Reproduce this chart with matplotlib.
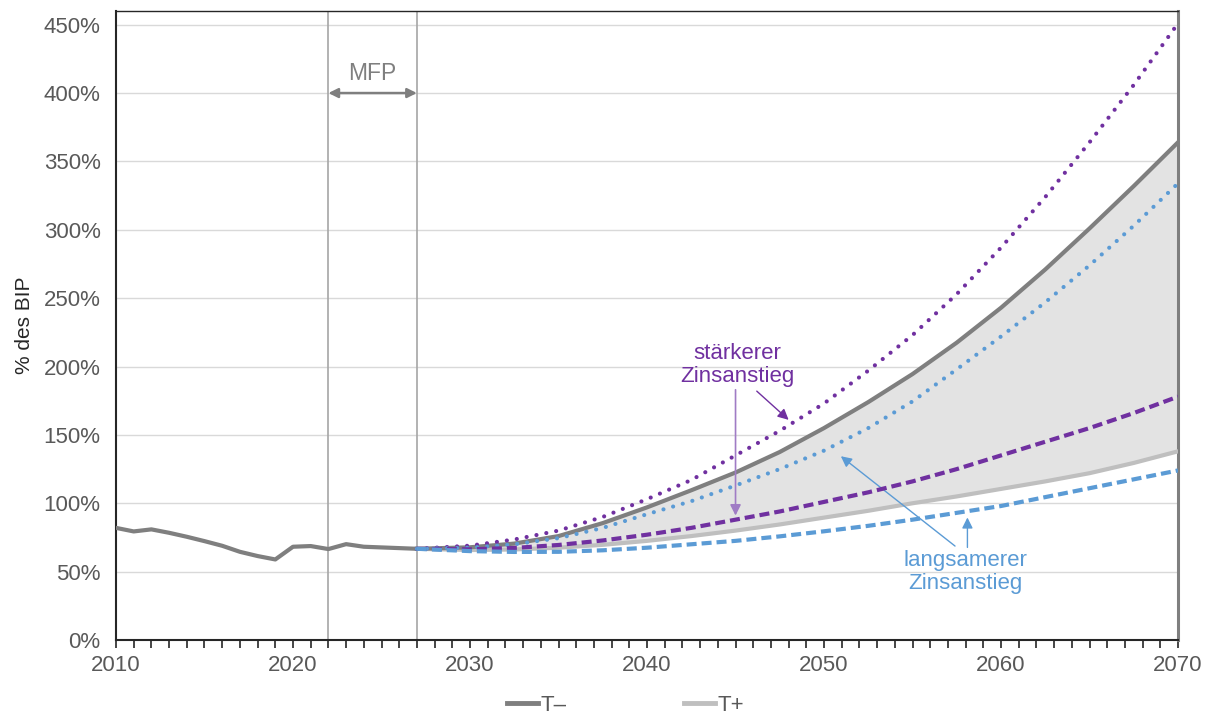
import matplotlib
matplotlib.use("Agg")
import matplotlib.pyplot as plt

plt.rcParams['font.family'] = ['Liberation Sans', 'DejaVu Sans']

# historische Schuldenquote
hist_years = list(range(2010, 2028))
hist_values = [82.0, 79.4, 80.9, 78.4, 75.5, 72.3, 68.9, 64.5, 61.4, 58.9,
               68.2, 68.7, 66.5, 70.1, 68.2, 67.7, 67.2, 66.7]

# Projektionen
proj_years = [2027, 2030, 2032.5, 2035, 2037.5, 2040, 2042.5, 2045, 2047.5,
              2050, 2052.5, 2055, 2057.5, 2060, 2062.5, 2065, 2067.5, 2070]
t_minus = [66.7, 67.8, 70.5, 76.0, 85.5, 97.0, 109.5, 122.5, 137.5,
           155.0, 174.0, 194.5, 217.5, 243.0, 271.0, 301.0, 332.0, 364.0]
t_plus = [66.7, 65.8, 66.2, 67.5, 69.6, 72.5, 76.0, 80.0, 84.5,
          89.5, 94.5, 100.0, 105.0, 110.5, 116.0, 122.0, 129.5, 138.0]
t_minus_strong = [66.7, 69.0, 73.5, 80.0, 90.0, 103.0, 117.0, 135.0, 153.0,
                  173.0, 197.0, 223.0, 253.0, 287.0, 324.0, 364.0, 406.0, 451.0]
t_minus_slow = [66.7, 67.5, 70.0, 74.5, 82.0, 92.0, 101.5, 113.0, 125.0,
                138.5, 155.0, 174.5, 198.0, 222.0, 247.0, 274.0, 303.0, 334.0]
t_plus_strong = [66.7, 66.3, 67.3, 69.5, 72.8, 77.0, 82.0, 88.0, 94.0,
                 101.0, 108.0, 116.0, 125.0, 135.0, 145.0, 155.0, 166.0, 178.0]
t_plus_slow = [66.7, 65.0, 64.4, 64.5, 65.6, 67.5, 70.0, 72.5, 75.8,
               79.5, 83.5, 88.0, 93.0, 98.0, 104.5, 111.0, 117.5, 124.0]

mfp_start, mfp_end = 2022, 2027

DARK = '#7f7f7f'
LIGHT = '#bfbfbf'
PURPLE = '#7030a0'
BLUE = '#5b9bd5'
TXT = '#595959'

fig = plt.figure(figsize=(12.12, 7.15), dpi=100)
ax = fig.add_axes([0.0957, 0.1049, 0.8763, 0.8797])

ax.fill_between(proj_years, t_plus, t_minus, color='#e3e3e3', lw=0, zorder=1)

for v in [50, 100, 150, 200, 250, 300, 350, 400, 450]:
    ax.axhline(v, color='#d9d9d9', lw=1.0, zorder=0)

ax.axvline(mfp_start, color='#a6a6a6', lw=1.2, zorder=2)
ax.axvline(mfp_end, color='#a6a6a6', lw=1.2, zorder=2)

LW = 3.0
ax.plot(hist_years, hist_values, color=DARK, lw=LW, zorder=4, solid_capstyle='round')
ax.plot(proj_years, t_plus, color=LIGHT, lw=LW, zorder=3, label='T+')
ax.plot(proj_years, t_minus, color=DARK, lw=LW, zorder=3, label='T\u2013')

dotted = (0, (0.01, 2.4))
dashed = (0, (2.4, 1.2))
ax.plot(proj_years, t_minus_strong, color=PURPLE, lw=LW, ls=dotted,
        dash_capstyle='round', zorder=5)
ax.plot(proj_years, t_minus_slow, color=BLUE, lw=LW, ls=dotted,
        dash_capstyle='round', zorder=5)
ax.plot(proj_years, t_plus_strong, color=PURPLE, lw=LW, ls=dashed, zorder=5)
ax.plot(proj_years, t_plus_slow, color=BLUE, lw=LW, ls=dashed, zorder=6)

# MFP Pfeil
ax.annotate('', xy=(mfp_start, 400), xytext=(mfp_end, 400),
            arrowprops=dict(arrowstyle='<|-|>', color=DARK, lw=1.8,
                            mutation_scale=14, shrinkA=0, shrinkB=0))
ax.text((mfp_start + mfp_end) / 2, 414, 'MFP', color=DARK, fontsize=16.5,
        ha='center', va='center')

# Beschriftungen
ax.text(2045.1, 201, 'stärkerer\nZinsanstieg', color=PURPLE, fontsize=16,
        ha='center', va='center', linespacing=1.15)
ax.annotate('', xy=(2045.0, 91), xytext=(2045.0, 183),
            arrowprops=dict(arrowstyle='-|>', color='#a07cc5', lw=1.2,
                            mutation_scale=16, shrinkA=0, shrinkB=0))
ax.annotate('', xy=(2048.0, 161), xytext=(2046.2, 182),
            arrowprops=dict(arrowstyle='-|>', color=PURPLE, lw=1.0,
                            mutation_scale=16, shrinkA=0, shrinkB=0))

ax.text(2058.0, 49.6, 'langsamerer\nZinsanstieg', color=BLUE, fontsize=16,
        ha='center', va='center', linespacing=1.15)
ax.annotate('', xy=(2050.95, 134.4), xytext=(2057.4, 68.7),
            arrowprops=dict(arrowstyle='-|>', color=BLUE, lw=1.0,
                            mutation_scale=16, shrinkA=0, shrinkB=0))
ax.annotate('', xy=(2058.1, 89.6), xytext=(2058.1, 67.7),
            arrowprops=dict(arrowstyle='-|>', color=BLUE, lw=1.0,
                            mutation_scale=16, shrinkA=0, shrinkB=0))

ax.set_xlim(2010, 2070)
ax.set_ylim(0, 460)
ax.set_xticks(range(2010, 2071, 10))
ax.set_xticks(range(2010, 2071), minor=True)
ax.set_yticks(range(0, 451, 50))
ax.set_yticklabels([f'{v}%' for v in range(0, 451, 50)])
ax.tick_params(axis='x', which='both', direction='out', length=6, width=1.2,
               color='#262626', labelsize=16, labelcolor=TXT, pad=5)
ax.tick_params(axis='y', length=0, labelsize=16, labelcolor=TXT, pad=11)
ax.set_ylabel('% des BIP', fontsize=15, color='#262626', labelpad=7)

for side in ['left', 'bottom']:
    ax.spines[side].set_color('#262626')
    ax.spines[side].set_linewidth(1.5)
ax.spines['top'].set_color('#262626')
ax.spines['top'].set_linewidth(1.0)
ax.spines['right'].set_color(DARK)
ax.spines['right'].set_linewidth(2.2)

handles, labels = ax.get_legend_handles_labels()
order = [1, 0]
leg = fig.legend([handles[i] for i in order], [labels[i] for i in order],
                 loc='center', bbox_to_anchor=(0.516, 0.013), ncol=2,
                 frameon=False, fontsize=16, handlelength=1.4,
                 handletextpad=0.1, columnspacing=5.3)
for t in leg.get_texts():
    t.set_color(TXT)
for h in leg.legend_handles:
    h.set_linewidth(3.5)

fig.savefig('out.png', dpi=100)
